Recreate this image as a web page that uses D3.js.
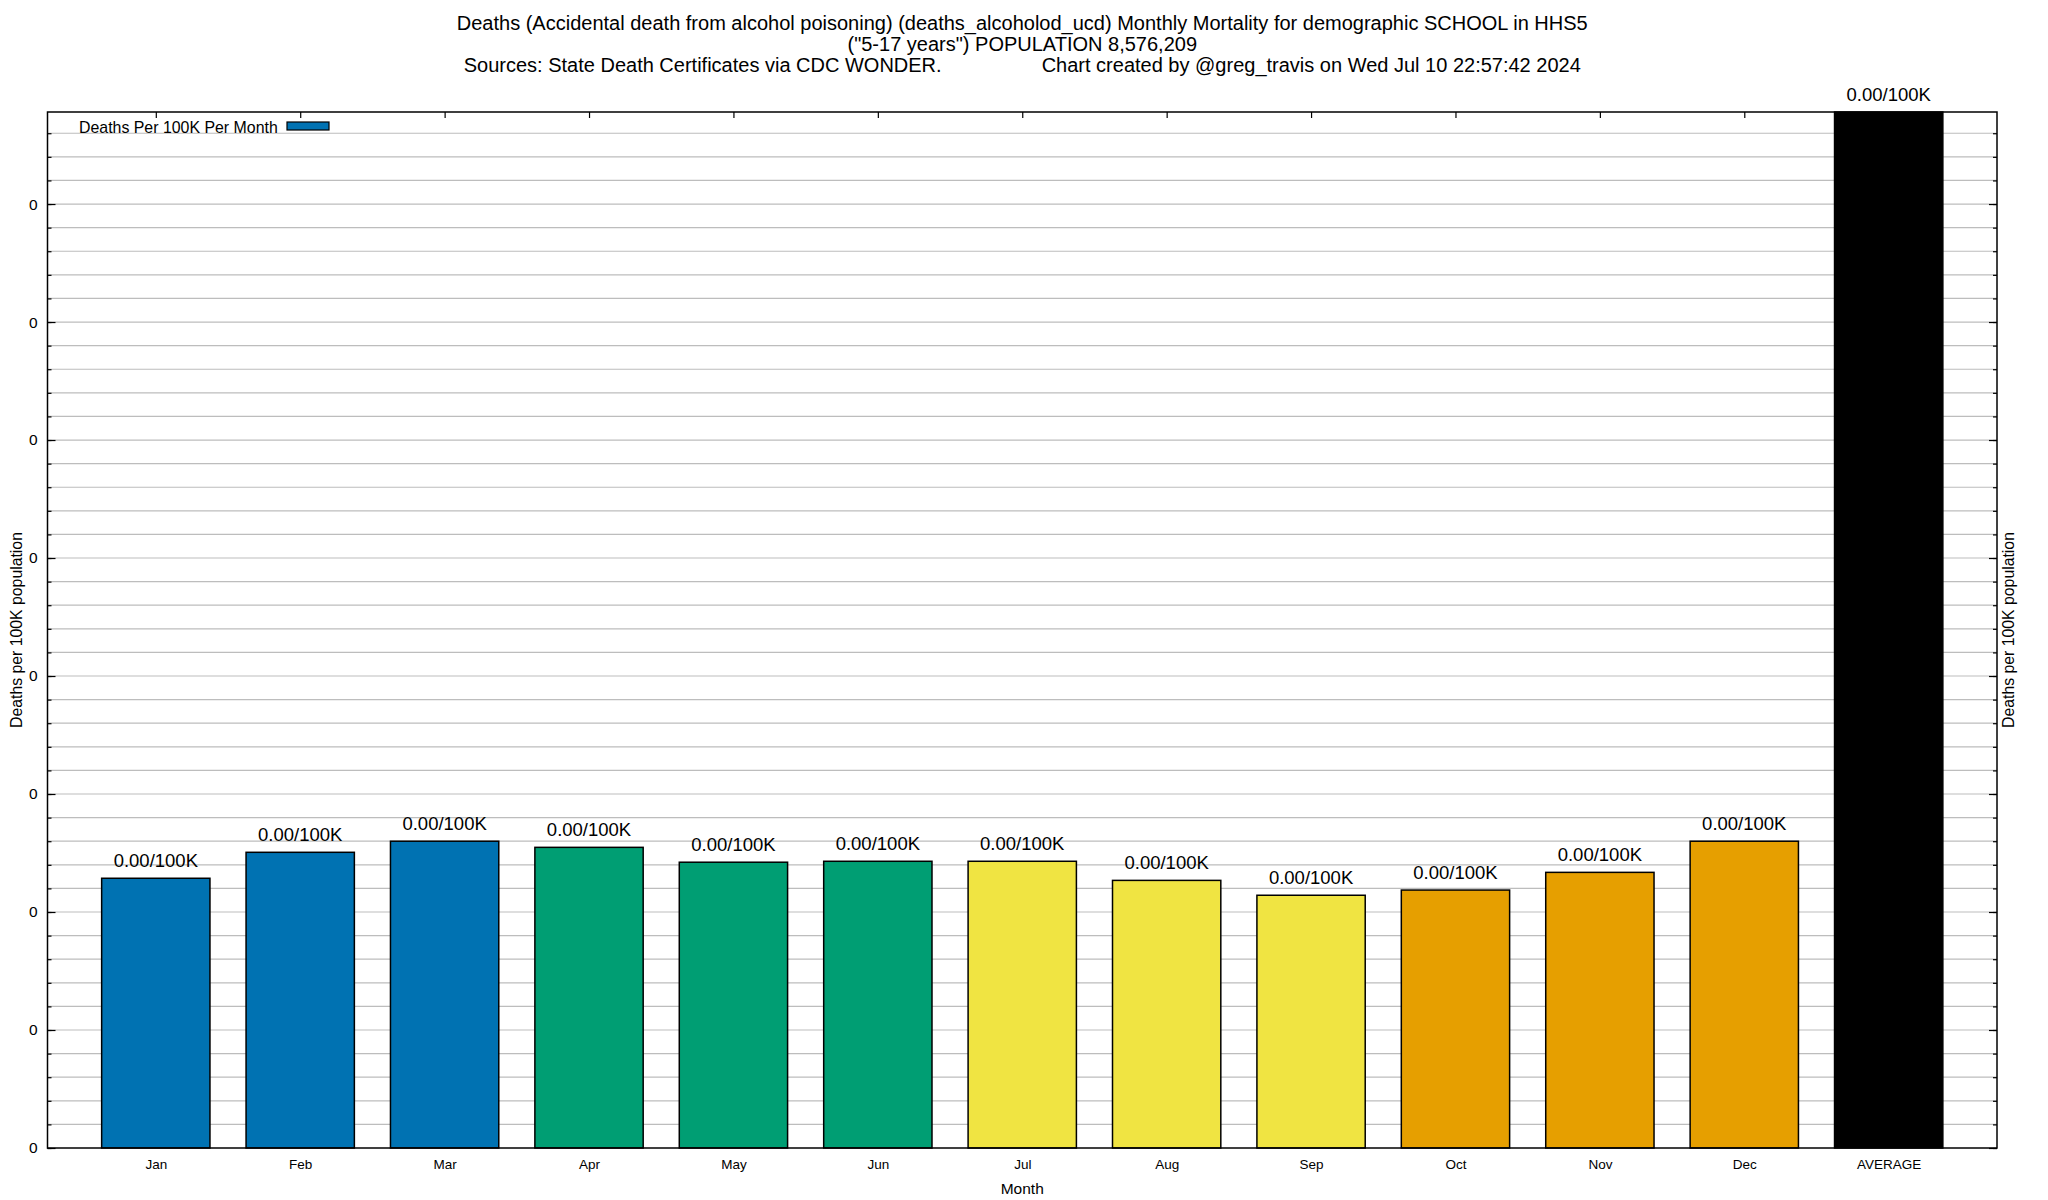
<!DOCTYPE html>
<html><head><meta charset="utf-8">
<script src="https://cdn.jsdelivr.net/npm/d3@7"></script>
<style>
body{margin:0;background:#fff}
svg{display:block}
text{font-family:"Liberation Sans",Arial,Helvetica,sans-serif;fill:#000}
</style>
</head><body>
<svg id="c" width="2048" height="1200"></svg>
<script>
// ---------------- data ----------------
const titleLines = [
  "Deaths (Accidental death from alcohol poisoning) (deaths_alcoholod_ucd) Monthly Mortality for demographic SCHOOL in HHS5",
  "(\"5-17 years\") POPULATION 8,576,209",
  "Sources: State Death Certificates via CDC WONDER.                  Chart created by @greg_travis on Wed Jul 10 22:57:42 2024"
];
const months = ["Jan","Feb","Mar","Apr","May","Jun","Jul","Aug","Sep","Oct","Nov","Dec"];
const monthlyRates = [0.001143,0.001253,0.001300,0.001274,0.001211,0.001215,0.001215,0.001134,0.001071,0.001093,0.001168,0.001300];
const averageName = "AVERAGE";
const averageRate = 0.00439;
const monthColors = ["#0072b2","#0072b2","#0072b2","#009e73","#009e73","#009e73","#f0e442","#f0e442","#f0e442","#e69f00","#e69f00","#e69f00"];
const averageColor = "#000000";
const yMajorStep = 0.0005;
const yMinorStep = 0.0001;
const legendLabel = "Deaths Per 100K Per Month";
const yAxisLabel = "Deaths per 100K population";
const xAxisLabel = "Month";

// ---------------- layout ----------------
const W = 2048, H = 1200;
const L = 47.5, R = 1997, T = 112, B = 1148;
const categories = months.concat([averageName]);
const values = monthlyRates.concat([averageRate]);
const colors = monthColors.concat([averageColor]);
const idx = d3.range(categories.length);

const svg = d3.select("#c");
const x = d3.scaleLinear().domain([-0.75, categories.length - 0.25]).range([L, R]);
const yMax = d3.max(values);
const y = d3.scaleLinear().domain([0, yMax]).range([B, T]);

const majorTicks = d3.range(0, Math.floor(yMax / yMajorStep + 1e-9) + 1).map(k => k * yMajorStep);
const minorTicks = d3.range(0, Math.floor(yMax / yMinorStep + 1e-9) + 1).map(k => k * yMinorStep);

// gridlines
svg.append("g").selectAll("line").data(minorTicks.filter(d => d > 0)).join("line")
  .attr("x1", L).attr("x2", R)
  .attr("y1", d => y(d)).attr("y2", d => y(d))
  .attr("stroke", "#bdbdbd").attr("stroke-width", 1.2);

// x ticks (bottom, hidden by bars) and top mirror ticks
const xb = svg.append("g").attr("transform", `translate(0,${B})`)
  .call(d3.axisBottom(x).tickValues(idx).tickSizeInner(-6).tickSizeOuter(0).tickPadding(11)
    .tickFormat(i => categories[i]));
xb.select(".domain").remove();
xb.selectAll("line").attr("stroke", "#000").attr("stroke-width", 1.2);
xb.selectAll("text").style("font-size", "13.5px").style("font-family", '"Liberation Sans",Arial,sans-serif');

// bars
svg.append("g").selectAll("rect").data(idx).join("rect")
  .attr("x", i => x(i - 0.375))
  .attr("width", i => x(i + 0.375) - x(i - 0.375))
  .attr("y", i => y(values[i]))
  .attr("height", i => B - y(values[i]))
  .attr("fill", i => colors[i])
  .attr("stroke", "#000").attr("stroke-width", 1.5);

// bar labels
svg.append("g").selectAll("text").data(idx).join("text")
  .attr("x", i => x(i))
  .attr("y", i => y(values[i]) - 11)
  .attr("text-anchor", "middle")
  .style("font-size", "18.5px")
  .text(i => d3.format(".2f")(values[i]) + "/100K");

// top ticks
const xt = svg.append("g").attr("transform", `translate(0,${T})`)
  .call(d3.axisTop(x).tickValues(idx).tickSizeInner(-6).tickSizeOuter(0).tickFormat(""));
xt.select(".domain").remove();
xt.selectAll("line").attr("stroke", "#000").attr("stroke-width", 1.2);

// y axis left (major + minor)
function styleAxis(g){ g.select(".domain").remove(); g.selectAll("line").attr("stroke","#000").attr("stroke-width",1.2); }
const yl = svg.append("g").attr("transform", `translate(${L},0)`)
  .call(d3.axisLeft(y).tickValues(majorTicks).tickSizeInner(-8).tickSizeOuter(0).tickPadding(10)
    .tickFormat(d3.format(".0f")));
styleAxis(yl);
yl.selectAll("text").style("font-size", "15.5px").style("font-family", '"Liberation Sans",Arial,sans-serif');
const ylm = svg.append("g").attr("transform", `translate(${L},0)`)
  .call(d3.axisLeft(y).tickValues(minorTicks).tickSizeInner(-4).tickSizeOuter(0).tickFormat(""));
styleAxis(ylm);
// y axis right (mirror)
const yr = svg.append("g").attr("transform", `translate(${R},0)`)
  .call(d3.axisRight(y).tickValues(majorTicks).tickSizeInner(-8).tickSizeOuter(0).tickFormat(""));
styleAxis(yr);
const yrm = svg.append("g").attr("transform", `translate(${R},0)`)
  .call(d3.axisRight(y).tickValues(minorTicks).tickSizeInner(-4).tickSizeOuter(0).tickFormat(""));
styleAxis(yrm);

// border
svg.append("rect").attr("x", L).attr("y", T).attr("width", R - L).attr("height", B - T)
  .attr("fill", "none").attr("stroke", "#000").attr("stroke-width", 1.5);

// titles
svg.append("g").selectAll("text").data(titleLines).join("text")
  .attr("x", (L + R) / 2)
  .attr("y", (d, i) => 30 + i * 21)
  .attr("text-anchor", "middle")
  .attr("xml:space", "preserve")
  .style("white-space", "pre")
  .style("font-size", "20px")
  .text(d => d);

// axis labels
svg.append("text").attr("transform", `translate(21.5,${(T + B) / 2}) rotate(-90)`)
  .attr("text-anchor", "middle").style("font-size", "15.8px").text(yAxisLabel);
svg.append("text").attr("transform", `translate(2014,${(T + B) / 2}) rotate(-90)`)
  .attr("text-anchor", "middle").style("font-size", "15.8px").text(yAxisLabel);
svg.append("text").attr("x", (L + R) / 2).attr("y", 1193.5)
  .attr("text-anchor", "middle").style("font-size", "15.5px").text(xAxisLabel);

// legend
svg.append("text").attr("x", 79).attr("y", 132.5).style("font-size", "15.9px").text(legendLabel);
svg.append("rect").attr("x", 287).attr("y", 122).attr("width", 42).attr("height", 8)
  .attr("fill", monthColors[0]).attr("stroke", "#000").attr("stroke-width", 1.2);
</script>
</body></html>
